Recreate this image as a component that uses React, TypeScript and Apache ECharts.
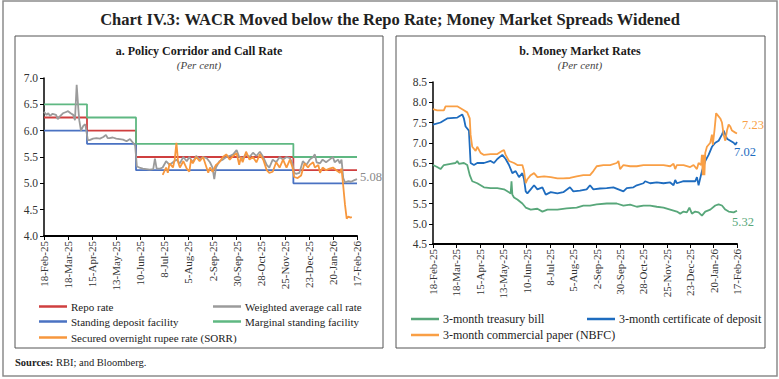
import React, { useEffect, useRef } from "react";
import * as echarts from "echarts";

const tickLabels = ["18-Feb-25","18-Mar-25","15-Apr-25","13-May-25","10-Jun-25","8-Jul-25","5-Aug-25","2-Sep-25","30-Sep-25","28-Oct-25","25-Nov-25","23-Dec-25","20-Jan-26","17-Feb-26"];

// days since 18-Feb-25
const repoDays = [0, 50, 107, 290, 364];
const repoValues = [6.25, 6.0, 5.5, 5.25, 5.25];
const sdfValues = [6.0, 5.75, 5.25, 5.0, 5.0];
const msfValues = [6.5, 6.25, 5.75, 5.5, 5.5];

const wacrDays = [0,3,5,7,10,14,16,19,22,25,28,31,34,36,38,40,41,43,46,48,51,53,57,61,65,69,72,74,76,80,84,88,92,96,100,103,106,108,111,115,119,123,127,129,131,135,138,142,146,150,154,158,162,166,169,173,177,181,185,189,193,196,198,200,204,208,212,216,220,224,227,231,235,239,243,247,251,255,259,262,266,270,274,278,282,286,289,291,293,297,301,305,309,313,315,317,321,324,328,332,336,338,342,344,346,348,350,354,357,361,364];
const wacrValues = [6.36,6.3,6.33,6.28,6.32,6.3,6.22,6.28,6.33,6.35,6.37,6.33,6.3,6.2,6.87,6.4,6.2,6.0,6.1,6.12,5.82,5.82,5.85,5.86,5.85,5.88,5.92,5.86,5.86,5.87,5.85,5.84,5.83,5.8,5.84,5.78,5.72,5.32,5.3,5.28,5.27,5.26,5.27,5.47,5.28,5.28,5.3,5.42,5.35,5.4,5.45,5.38,5.5,5.42,5.5,5.4,5.52,5.45,5.5,5.48,5.4,5.3,5.08,5.3,5.42,5.45,5.5,5.52,5.55,5.63,5.5,5.48,5.55,5.5,5.58,5.52,5.6,5.5,5.35,5.3,5.45,5.4,5.5,5.45,5.5,5.48,5.38,5.2,5.18,5.2,5.42,5.35,5.45,5.5,5.55,5.4,5.38,5.45,5.4,5.45,5.5,5.4,5.45,5.38,5.45,5.1,5.02,5.04,5.03,5.06,5.08];

const sorrDays = [138,142,144,146,150,152,154,156,158,162,164,166,169,171,173,177,181,185,189,191,193,196,200,204,208,212,216,220,224,227,229,231,235,239,243,247,251,255,259,262,266,270,274,278,282,286,289,291,295,299,303,307,309,313,315,319,321,324,328,332,336,340,344,346,348,350,352,354,356,358];
const sorrValues = [5.16,5.3,5.2,5.38,5.3,5.45,5.77,5.4,5.3,5.42,5.35,5.28,5.22,5.45,5.38,5.5,5.42,5.5,5.3,5.2,5.3,5.22,5.35,5.4,5.5,5.55,5.45,5.52,5.57,5.35,5.5,5.4,5.6,5.45,5.5,5.4,5.55,5.45,5.25,5.2,5.22,5.4,5.3,5.45,5.3,5.45,5.3,5.12,5.1,5.15,5.38,5.3,5.35,5.4,5.3,5.35,5.2,5.3,5.25,5.28,5.3,5.25,5.2,5.28,4.95,4.6,4.33,4.37,4.35,4.36];

const tbDays = [0,5,9,13,21,27,29,31,37,41,44,47,53,57,61,69,77,85,89,93,94,95,97,101,107,111,117,125,131,137,149,160,172,180,188,196,208,220,228,236,244,252,260,268,276,284,292,296,300,304,307,310,314,318,322,326,332,338,342,346,350,354,360,364];
const tbValues = [6.45,6.4,6.35,6.45,6.48,6.5,6.55,6.48,6.5,6.45,6.2,6.05,6.0,5.95,5.9,5.88,5.88,5.85,5.8,5.75,6.05,5.72,5.65,5.6,5.5,5.4,5.35,5.37,5.3,5.35,5.35,5.38,5.4,5.45,5.45,5.48,5.5,5.5,5.45,5.47,5.42,5.45,5.45,5.42,5.4,5.35,5.3,5.25,5.3,5.28,5.4,5.25,5.3,5.28,5.2,5.3,5.35,5.45,5.48,5.45,5.35,5.3,5.28,5.32];

const cdDays = [0,9,17,29,31,35,37,39,43,45,49,53,61,69,73,77,83,87,91,95,99,103,107,109,111,113,117,121,125,131,135,141,149,156,164,168,176,184,188,192,200,208,216,222,228,232,240,244,252,254,260,268,276,284,288,290,292,300,308,314,316,318,322,326,330,334,338,342,346,348,352,356,360,362,364];
const cdValues = [7.45,7.5,7.6,7.62,7.65,7.7,7.6,7.4,7.3,6.5,6.45,6.5,6.5,6.55,6.5,6.6,6.7,6.6,6.45,6.25,6.3,6.15,6.25,6.1,5.8,5.75,5.85,5.95,5.85,5.9,5.72,5.78,5.75,5.78,5.9,5.8,5.82,5.85,5.95,5.85,5.87,5.88,5.9,5.85,5.8,5.88,5.9,5.95,6.0,6.05,6.0,6.02,6.0,6.02,5.95,6.08,6.0,6.05,6.05,6.05,6.15,5.95,6.3,6.55,6.7,6.9,7.0,7.05,7.2,7.3,7.1,7.05,7.0,6.95,7.02];

const cpDays = [0,5,9,13,15,21,29,33,37,41,44,45,47,51,53,57,61,69,77,83,85,87,91,97,101,107,109,111,113,117,121,125,133,141,149,156,164,172,180,188,192,196,204,212,220,222,224,228,236,244,252,260,268,276,284,288,290,292,300,308,312,316,318,321,322,323,324,325,326,328,330,332,334,335,337,339,342,344,346,348,350,352,354,356,358,362,364];
const cpValues = [7.83,7.8,7.8,7.8,7.9,7.9,7.9,7.85,7.8,7.75,7.6,7.2,6.9,6.8,6.9,6.75,6.7,6.72,6.72,6.8,6.82,6.7,6.55,6.5,6.45,6.45,6.3,6.0,6.1,6.2,6.25,6.15,6.17,6.15,6.12,6.12,6.13,6.17,6.2,6.2,6.3,6.42,6.45,6.45,6.5,6.55,6.35,6.45,6.42,6.42,6.45,6.45,6.45,6.45,6.42,6.48,6.35,6.45,6.45,6.4,6.45,6.35,6.5,6.45,6.7,6.2,6.7,6.2,6.75,6.9,6.95,7.0,7.2,6.95,7.3,7.73,7.65,7.6,7.5,7.2,7.05,7.3,7.45,7.4,7.3,7.25,7.23];

const zip = (d: number[], v: number[]) => d.map((x, i) => [x, v[i]]);

const FONT = "Liberation Serif";
const C = {
  repo: "#cf3f3f", sdf: "#4a72c2", msf: "#5fb882", wacr: "#9b9b9b", sorr: "#f7973d",
  tb: "#58a77a", cd: "#1e6cbf", cp: "#f99f45",
};

export default function App() {
  const ref = useRef<HTMLDivElement>(null);
  useEffect(() => {
    const chart = echarts.init(ref.current!, null, { renderer: "svg" });
    const xAxisBase = (gi: number) => ({
      type: "value" as const, gridIndex: gi, min: 0, max: 364, interval: 28,
      axisLine: { show: true, lineStyle: { color: "#000", width: 2 } },
      axisTick: { show: true, length: 4, lineStyle: { color: "#000" } },
      splitLine: { show: false },
      axisLabel: {
        rotate: 90, fontFamily: FONT, fontSize: 11, color: "#333", margin: 5,
        formatter: (v: number) => tickLabels[Math.round(v / 28)] ?? "",
      },
    });
    const yAxisBase = (gi: number, min: number, max: number) => ({
      type: "value" as const, gridIndex: gi, min, max, interval: 0.5,
      axisLine: { show: true, lineStyle: { color: "#000", width: 1.5 } },
      axisTick: { show: true, length: 4, lineStyle: { color: "#000" } },
      splitLine: { show: false },
      axisLabel: { fontFamily: FONT, fontSize: 11.5, color: "#333", margin: 6, formatter: (v: number) => v.toFixed(1) },
    });
    const line = (name: string, data: any, color: string, xi: number, extra: any = {}) => ({
      name, type: "line", xAxisIndex: xi, yAxisIndex: xi, data, showSymbol: false, symbol: "none",
      lineStyle: { color, width: 1.8 }, itemStyle: { color }, ...extra,
    });
    const endLabel = (color: string, offset: number[]) => ({
      endLabel: { show: true, color, fontFamily: FONT, fontSize: 12.5, offset, distance: 3,
        formatter: (p: any) => p.value[1].toFixed(2) },
    });
    const legendItem = (name: string, left: number, top: number, fs: number) => ({
      data: [name], left, top, icon: "rect", itemWidth: 28, itemHeight: 2.5, itemGap: 0,
      padding: 0, textStyle: { fontFamily: FONT, fontSize: fs, color: "#222", padding: [0, 0, 0, -1] },
      selectedMode: false,
    });
    const option: any = {
      animation: false,
      backgroundColor: "#fff",
      grid: [
        { left: 44, top: 78, width: 313, height: 158 },
        { left: 433, top: 82, width: 304, height: 162 },
      ],
      xAxis: [xAxisBase(0), xAxisBase(1)],
      yAxis: [yAxisBase(0, 4, 7), yAxisBase(1, 4.5, 8.5)],
      legend: [
        legendItem("Repo rate", 39, 301, 11),
        legendItem("Weighted average call rate", 213, 301, 11),
        legendItem("Standing deposit facility", 39, 316, 11),
        legendItem("Marginal standing facility", 213, 316, 11),
        legendItem("Secured overnight rupee rate (SORR)", 39, 332, 11),
        legendItem("3-month treasury bill", 411, 313, 12),
        legendItem("3-month certificate of deposit", 587, 313, 12),
        legendItem("3-month commercial paper (NBFC)", 411, 329, 12),
      ],
      series: [
        line("Repo rate", zip(repoDays, repoValues), C.repo, 0, { step: "end" }),
        line("Standing deposit facility", zip(repoDays, sdfValues), C.sdf, 0, { step: "end" }),
        line("Marginal standing facility", zip(repoDays, msfValues), C.msf, 0, { step: "end" }),
        line("Weighted average call rate", zip(wacrDays, wacrValues), C.wacr, 0, endLabel("#8a8a8a", [0, -2])),
        line("Secured overnight rupee rate (SORR)", zip(sorrDays, sorrValues), C.sorr, 0),
        line("3-month treasury bill", zip(tbDays, tbValues), C.tb, 1, endLabel(C.tb, [-8, 11])),
        line("3-month certificate of deposit", zip(cdDays, cdValues), C.cd, 1, endLabel(C.cd, [-6, 10])),
        line("3-month commercial paper (NBFC)", zip(cpDays, cpValues), C.cp, 1, endLabel(C.cp, [2, -8])),
      ],
      graphic: [
        { type: "rect", shape: { x: 3, y: 1, width: 774, height: 375 }, style: { fill: "none", stroke: "#8c8c8c", lineWidth: 1.5 }, silent: true },
        { type: "rect", shape: { x: 15, y: 36, width: 368, height: 312 }, style: { fill: "none", stroke: "#555", lineWidth: 1 }, silent: true },
        { type: "rect", shape: { x: 396, y: 36, width: 369, height: 312 }, style: { fill: "none", stroke: "#555", lineWidth: 1 }, silent: true },
        { type: "text", x: 390, y: 19, style: { text: "Chart IV.3: WACR Moved below the Repo Rate; Money Market Spreads Widened", font: `bold 16.5px "${FONT}"`, fill: "#222", textAlign: "center", textVerticalAlign: "middle" } },
        { type: "text", x: 199, y: 51, style: { text: "a. Policy Corridor and Call Rate", font: `bold 12px "${FONT}"`, fill: "#1a1a1a", textAlign: "center", textVerticalAlign: "middle" } },
        { type: "text", x: 199, y: 65, style: { text: "(Per cent)", font: `italic 11px "${FONT}"`, fill: "#444", textAlign: "center", textVerticalAlign: "middle" } },
        { type: "text", x: 580, y: 51, style: { text: "b. Money Market Rates", font: `bold 12px "${FONT}"`, fill: "#1a1a1a", textAlign: "center", textVerticalAlign: "middle" } },
        { type: "text", x: 580, y: 65, style: { text: "(Per cent)", font: `italic 11px "${FONT}"`, fill: "#444", textAlign: "center", textVerticalAlign: "middle" } },
        { type: "text", x: 15, y: 362, style: { text: "{b|Sources:} RBI; and Bloomberg.", font: `10.5px "${FONT}"`, fill: "#222", textVerticalAlign: "middle", rich: { b: { fontWeight: "bold", fontFamily: FONT, fontSize: 10.5, fill: "#222" } } } },
      ],
    };
    chart.setOption(option);
    return () => chart.dispose();
  }, []);
  return <div ref={ref} style={{ position: "fixed", left: 0, top: 0, width: 779, height: 379 }} />;
}
